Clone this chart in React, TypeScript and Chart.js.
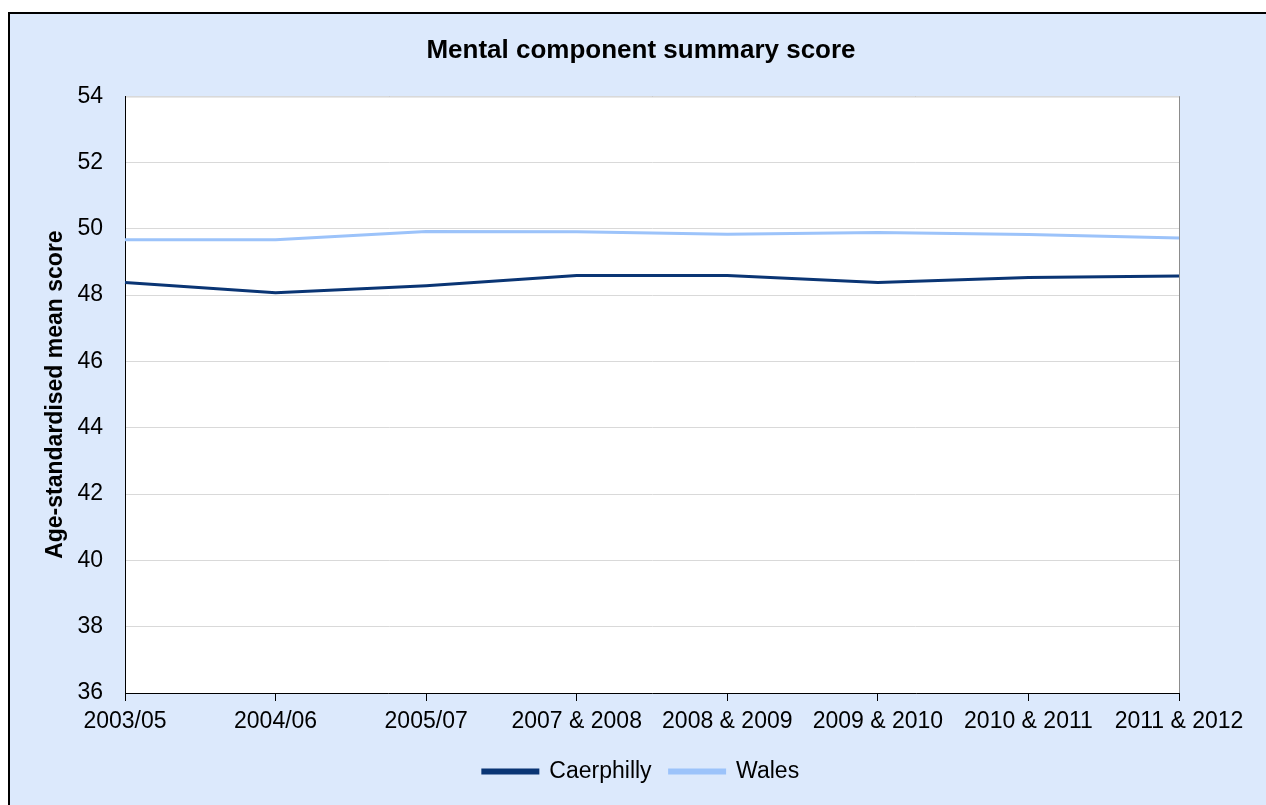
import React, { useEffect, useRef } from "react";
import { Chart, registerables } from "chart.js";

Chart.register(...registerables);

const categories = [
  "2003/05",
  "2004/06",
  "2005/07",
  "2007 & 2008",
  "2008 & 2009",
  "2009 & 2010",
  "2010 & 2011",
  "2011 & 2012",
];
const caerphilly = [48.38, 48.07, 48.28, 48.59, 48.59, 48.38, 48.53, 48.58];
const wales = [49.67, 49.67, 49.92, 49.91, 49.84, 49.89, 49.83, 49.72];
const yMin = 36;
const yMax = 54;
const yStep = 2;

const FONT = "'Liberation Sans', Arial, sans-serif";

const plotBg = {
  id: "plotBg",
  beforeDraw(chart: any) {
    const { ctx, chartArea } = chart;
    if (!chartArea) return;
    ctx.save();
    ctx.fillStyle = "#ffffff";
    ctx.fillRect(chartArea.left, chartArea.top, chartArea.right - chartArea.left, chartArea.bottom - chartArea.top);
    ctx.strokeStyle = "#8c8c8c";
    ctx.lineWidth = 1;
    ctx.strokeRect(chartArea.left + 0.5, chartArea.top + 0.5, chartArea.right - chartArea.left, chartArea.bottom - chartArea.top);
    ctx.restore();
  },
};

export default function App() {
  const ref = useRef<HTMLCanvasElement>(null);
  useEffect(() => {
    if (!ref.current) return;
    const chart = new Chart(ref.current, {
      type: "line",
      data: {
        labels: categories,
        datasets: [
          {
            label: "Caerphilly",
            data: caerphilly,
            borderColor: "#0a3574",
            backgroundColor: "#0a3574",
            borderWidth: 3,
            pointRadius: 0,
            tension: 0,
          },
          {
            label: "Wales",
            data: wales,
            borderColor: "#9cc3fa",
            backgroundColor: "#9cc3fa",
            borderWidth: 3,
            pointRadius: 0,
            tension: 0,
          },
        ],
      },
      options: {
        responsive: false,
        animation: false,
        layout: { padding: { left: 42, right: 26, top: 14, bottom: 12 } },
        plugins: {
          title: {
            display: true,
            text: "Mental component summary score",
            color: "#000",
            font: { family: FONT, size: 26, weight: "bold" },
            padding: { top: 21, bottom: 30 },
          },
          legend: {
            position: "bottom",
            labels: {
              color: "#000",
              font: { family: FONT, size: 23 },
              boxWidth: 55,
              boxHeight: 3,
              padding: 18,
            },
          },
          tooltip: { enabled: false },
        },
        scales: {
          x: {
            offset: false,
            grid: {
              drawOnChartArea: false,
              drawTicks: true,
              tickLength: 8,
              color: "#000",
            },
            border: { color: "#000", width: 1 },
            ticks: {
              color: "#000",
              font: { family: FONT, size: 23 },
              padding: 7,
              maxRotation: 0,
              autoSkip: false,
            },
            afterFit(scale: any) {
              scale.height = 49;
              scale.paddingLeft = 0;
              scale.paddingRight = 0;
            },
          },
          y: {
            min: yMin,
            max: yMax,
            grid: { color: "#d9d9d9", drawTicks: false },
            border: { color: "#000", width: 1 },
            ticks: {
              stepSize: yStep,
              color: "#000",
              font: { family: FONT, size: 23 },
              padding: 22,
            },
            title: {
              display: true,
              text: "Age-standardised mean score",
              color: "#000",
              font: { family: FONT, size: 23, weight: "bold" },
              padding: 0,
            },
            afterFit(scale: any) {
              scale.width = 83;
            },
          },
          yRight: {
            position: "right",
            min: yMin,
            max: yMax,
            grid: { display: false, drawOnChartArea: false },
            border: { display: false },
            ticks: { display: false },
            afterFit(scale: any) {
              scale.width = 61;
            },
          },
        },
      },
      plugins: [plotBg],
    });
    return () => chart.destroy();
  }, []);

  return (
    <div style={{ position: "fixed", left: 0, top: 0, width: 1266, height: 805, background: "#fff", overflow: "hidden" }}>
      <div
        style={{
          position: "absolute",
          left: 8,
          top: 12,
          width: 1300,
          height: 900,
          border: "2px solid #000",
          background: "#dce9fc",
          boxSizing: "border-box",
        }}
      />
      <canvas ref={ref} width={1266} height={805} style={{ position: "absolute", left: 0, top: 0 }} />
    </div>
  );
}
